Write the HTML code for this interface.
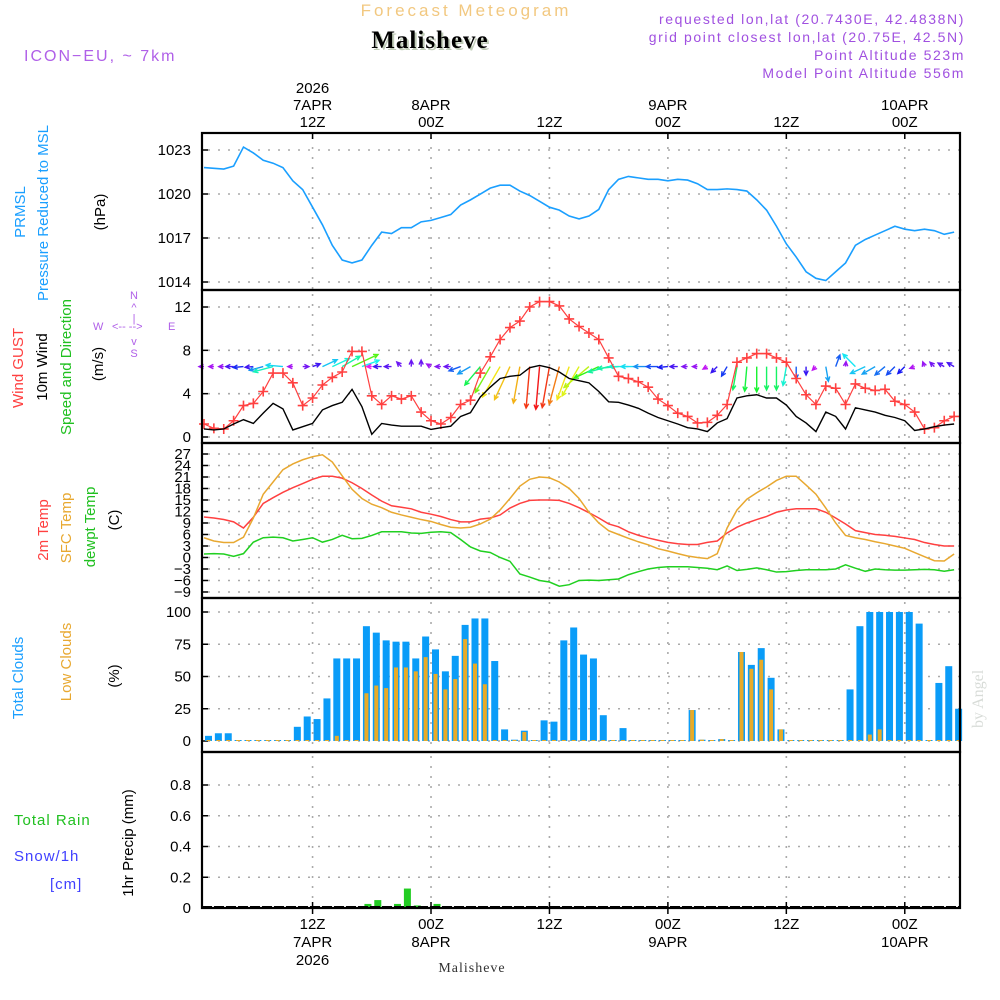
<!DOCTYPE html>
<html><head><meta charset="utf-8"><title>Meteogram Malisheve</title>
<style>
html,body{margin:0;padding:0;background:#fff;}
svg{display:block;font-family:"Liberation Sans",sans-serif;}
</style></head>
<body>
<svg id="chart" width="1000" height="1000" viewBox="0 0 1000 1000" xmlns="http://www.w3.org/2000/svg">
<rect width="1000" height="1000" fill="#fff"/>
<text x="466" y="16" text-anchor="middle" font-size="17" letter-spacing="3" fill="#f2c880">Forecast Meteogram</text>
<text x="432" y="50" text-anchor="middle" font-family="Liberation Serif,serif" font-weight="bold" font-size="25" fill="#c0ccb8" letter-spacing="1">Malisheve</text>
<text x="430" y="48" text-anchor="middle" font-family="Liberation Serif,serif" font-weight="bold" font-size="25" fill="#000" letter-spacing="1">Malisheve</text>
<text x="24" y="61" font-size="16" letter-spacing="2" fill="#b060e8">ICON−EU,  ~  7km</text>
<g font-size="14" letter-spacing="1.6" fill="#a050e0" text-anchor="end">
<text x="965" y="24">requested lon,lat (20.7430E, 42.4838N)</text>
<text x="965" y="42">grid point closest lon,lat (20.75E, 42.5N)</text>
<text x="965" y="60">Point Altitude 523m</text>
<text x="965" y="78">Model Point Altitude 556m</text>
</g>
<g font-size="15">
<text transform="translate(25,212) rotate(-90)" text-anchor="middle" fill="#1a9fff">PRMSL</text>
<text transform="translate(48,213) rotate(-90)" text-anchor="middle" fill="#1a9fff">Pressure Reduced to MSL</text>
<text transform="translate(105,212) rotate(-90)" text-anchor="middle" fill="#000">(hPa)</text>
<text transform="translate(23,368) rotate(-90)" text-anchor="middle" fill="#ff4040">Wind GUST</text>
<text transform="translate(47,367) rotate(-90)" text-anchor="middle" fill="#000">10m Wind</text>
<text transform="translate(71,367) rotate(-90)" text-anchor="middle" fill="#20c020">Speed and Direction</text>
<text transform="translate(103,364) rotate(-90)" text-anchor="middle" fill="#000">(m/s)</text>
<text transform="translate(48,530) rotate(-90)" text-anchor="middle" fill="#ff4040">2m Temp</text>
<text transform="translate(71,528) rotate(-90)" text-anchor="middle" fill="#e8a830">SFC Temp</text>
<text transform="translate(95,527) rotate(-90)" text-anchor="middle" fill="#20c020">dewpt Temp</text>
<text transform="translate(119,520) rotate(-90)" text-anchor="middle" fill="#000">(C)</text>
<text transform="translate(23,678) rotate(-90)" text-anchor="middle" fill="#1a9fff">Total Clouds</text>
<text transform="translate(71,662) rotate(-90)" text-anchor="middle" fill="#e8a830">Low Clouds</text>
<text transform="translate(119,676) rotate(-90)" text-anchor="middle" fill="#000">(%)</text>
<text x="14" y="825" fill="#20c020" letter-spacing="1">Total  Rain</text>
<text x="14" y="861" fill="#4040ff" letter-spacing="1">Snow/1h</text>
<text x="50" y="889" fill="#4040ff" letter-spacing="1">[cm]</text>
<text transform="translate(133,843) rotate(-90)" text-anchor="middle" fill="#000">1hr Precip (mm)</text>
</g>
<g font-size="11" fill="#b060e8">
<text x="134" y="299" text-anchor="middle">N</text>
<text x="134" y="311" text-anchor="middle">^</text>
<text x="93" y="330">W</text>
<text x="112" y="330">&lt;-- --&gt;</text>
<text x="168" y="330">E</text>
<text x="134" y="322" text-anchor="middle">|</text>
<text x="134" y="345" text-anchor="middle">v</text>
<text x="134" y="357" text-anchor="middle">S</text>
</g>
<text transform="translate(983,728) rotate(-90)" font-family="Liberation Serif,serif" font-size="16" fill="#d8dcd8">by Angel</text>
<text x="472" y="972" text-anchor="middle" font-family="Liberation Serif,serif" font-size="14" fill="#333" letter-spacing="1">Malisheve</text>
<g id="plot"></g>
</svg>
<script>
const startHour = 1;
const pressure = [1021.8,1021.75,1021.7,1021.9,1023.2,1022.8,1022.3,1022.1,1021.8,1020.9,1020.3,1019.1,1017.9,1016.5,1015.5,1015.3,1015.5,1016.5,1017.4,1017.3,1017.7,1017.7,1018.1,1018.2,1018.4,1018.6,1019.25,1019.6,1020.0,1020.4,1020.6,1020.6,1020.2,1019.9,1019.5,1019.1,1018.9,1018.5,1018.3,1018.5,1018.95,1020.3,1021.0,1021.2,1021.1,1021.0,1021.0,1020.9,1021.0,1020.95,1020.7,1020.3,1020.3,1020.35,1020.3,1020.2,1019.6,1018.9,1017.8,1016.6,1015.7,1014.7,1014.25,1014.1,1014.7,1015.3,1016.5,1016.9,1017.2,1017.5,1017.8,1017.6,1017.5,1017.6,1017.5,1017.25,1017.4];
const windGust = [1.2,0.8,0.74,1.5,2.9,3.1,4.2,5.9,5.9,5.0,2.9,3.6,4.8,5.5,6.0,7.9,7.9,3.8,3.0,3.8,3.5,3.8,2.3,1.5,1.2,1.8,3.0,3.4,5.9,7.4,9.0,10.1,10.7,12.0,12.5,12.5,12.1,10.9,10.2,9.6,9.0,7.3,5.6,5.4,5.1,4.6,3.5,2.9,2.2,1.9,1.3,1.35,2.0,3.0,6.9,7.3,7.7,7.7,7.3,6.9,5.4,3.9,3.0,4.7,4.5,3.0,4.9,4.5,4.3,4.4,3.3,3.0,2.3,0.74,0.86,1.5,1.9];
const windSpeed = [0.74,0.65,0.74,1.2,1.6,1.25,2.2,3.1,2.6,0.65,0.95,1.25,2.5,2.9,3.2,4.4,2.8,0.25,1.25,1.1,1.0,1.0,1.0,0.7,0.86,1.0,1.9,2.25,3.7,4.6,5.4,5.6,5.7,6.4,6.6,6.4,6.0,5.4,5.2,5.0,4.2,3.25,3.2,2.95,2.65,2.2,1.8,1.5,1.2,0.86,0.74,0.5,1.3,1.7,3.6,3.8,3.9,3.6,3.6,2.95,1.9,1.3,0.5,2.3,1.9,0.74,2.7,2.5,2.3,2.0,1.8,1.5,0.6,0.74,0.95,1.1,1.2];
const windDir = [180,180,180,180,175,175,165,165,185,180,0,-20,-25,-25,-30,-25,-20,180,180,180,-135,-90,-90,-150,180,180,160,150,130,120,120,115,100,95,95,100,105,110,120,140,155,165,175,180,180,180,180,175,180,180,180,150,135,120,100,95,90,90,90,100,90,90,135,80,-70,-85,-135,155,150,140,135,135,160,-110,-135,-150,-150];
const temp2m = [10.55,10.3,9.9,9.3,7.7,10.5,14.1,15.6,17.0,18.2,19.3,20.4,21.2,21.2,20.7,19.5,18.0,16.3,14.7,13.5,13.1,12.7,11.8,11.3,10.7,9.9,9.3,9.3,10.0,10.3,11.1,12.9,14.1,14.9,15.0,15.0,14.9,14.1,13.0,11.7,10.3,8.75,8.0,6.7,5.8,5.1,4.5,3.95,3.6,3.4,3.4,3.95,4.3,6.4,7.9,9.0,9.9,10.7,11.8,12.4,12.7,12.7,12.7,11.8,10.3,8.75,7.0,6.5,6.0,5.8,5.5,5.1,4.7,3.9,3.4,3.0,3.0];
const tempSfc = [5.15,4.3,3.9,3.9,5.3,10.3,16.5,19.7,22.9,24.4,25.5,26.3,26.8,24.9,21.3,17.8,15.4,13.9,13.0,11.8,11.1,10.5,9.9,9.4,8.6,7.9,7.7,7.9,8.75,10.0,12.4,15.4,18.6,20.4,21.0,20.8,19.7,18.0,15.4,11.8,9.0,7.0,6.0,5.0,4.1,3.3,2.3,1.7,1.0,0.4,0.0,-0.3,1.0,7.7,12.4,15.2,16.9,18.4,20.1,21.2,21.2,18.9,16.5,12.9,9.0,5.75,5.15,4.7,4.1,3.6,3.0,2.4,1.3,0.2,-0.85,-0.9,0.9];
const dewpoint = [0.9,1.0,0.9,0.3,1.0,4.0,5.15,5.3,5.15,4.3,4.7,5.15,4.0,4.7,5.8,4.9,5.0,5.75,6.7,6.7,6.7,6.4,6.3,6.6,6.7,6.5,4.7,2.75,1.7,1.3,0.0,-1.0,-4.3,-5.1,-6.0,-6.4,-7.5,-7.1,-6.0,-5.9,-6.0,-5.8,-5.6,-4.5,-3.7,-3.0,-2.6,-2.4,-2.4,-2.4,-2.6,-2.8,-3.2,-2.2,-3.4,-3.1,-2.7,-3.2,-3.8,-3.7,-3.4,-3.2,-3.2,-3.2,-3.0,-1.9,-2.8,-3.6,-3.0,-3.2,-3.3,-3.3,-3.2,-3.1,-3.2,-3.6,-3.2];
const totalClouds = [4,6,6,0,0,0,0,0,0,11,19,17,33,64,64,64,89,84,78,77,77,64,81,71,54,66,90,95,95,62,9,1,8,0.3,16,15,78,88,67,64,20,0,10,0,0,0,0,0,0,24,1,0,1.5,0,69,59,72,49,9,0,0,0,0,0,0,40,89,100,100,100,100,100,91,0,45,58,25];
const lowClouds = [0,0,0,0,0,0,0,0,0,0,0,0,0,4,0,0,37,43,41,57,57,54,65,52,40,48,79,60,44,0,0,0,7,0,0,0,0,0,0,0,0,0,0,0,0,0,0,0,0,24,1,0,1.5,0,69,56,63,40,9,0,0,0,0,0,0,0,0,5,9,0,0,0,0,0,0,0,0];
const precip = [0,0,0,0,0,0,0,0,0,0,0,0,0,0,0,0,0.02,0.045,0,0.02,0.12,0.01,0,0.02,0,0,0,0,0,0,0,0,0,0,0,0,0,0,0,0,0,0,0,0,0,0,0,0,0,0,0,0,0,0,0,0,0,0,0,0,0,0,0,0,0,0,0,0,0,0,0,0,0,0,0,0,0];
const timeTicks = [12,24,36,48,60,72];
const topTickLabels = [["2026","7APR","12Z"],["8APR","00Z"],["12Z"],["9APR","00Z"],["12Z"],["10APR","00Z"]];
const bottomTickLabels = [["12Z","7APR","2026"],["00Z","8APR"],["12Z"],["00Z","9APR"],["12Z"],["00Z","10APR"]];
const pTicks = [1014,1017,1020,1023];
const wTicks = [0,4,8,12];
const tTicks = [27,24,21,18,15,12,9,6,3,0,-3,-6,-9];
const cTicks = [0,25,50,75,100];
const rTicks = [0,0.2,0.4,0.6,0.8];

const L=202,R=960;
function x(t){return 204+(t-1)*9.87;}
function py(v){return 150+(1023-v)*14.667;}
function wy(v){return 437-v*10.833;}
function ty(v){return 454+(27-v)*3.833;}
function cy(v){return 741-v*1.29;}
function ry(v){return 908-v*153.75;}
const panels=[[133,290],[290,443],[443,598],[598,752],[752,908]];

const NS='http://www.w3.org/2000/svg';
const plot=document.getElementById('plot');
function mk(tag,attrs,parent){const e=document.createElementNS(NS,tag);for(const k in attrs)e.setAttribute(k,attrs[k]);(parent||plot).appendChild(e);return e;}
function txt(s,attrs,parent){const e=mk('text',attrs,parent);e.textContent=s;return e;}

const grid=mk('g',{stroke:'#aaa','stroke-width':1.6,'stroke-dasharray':'2 8'});


function hgrid(arr,f){arr.forEach(v=>mk('line',{x1:L+6,x2:R,y1:f(v),y2:f(v)},grid));}
hgrid(pTicks,py);hgrid(wTicks,wy);hgrid(tTicks,ty);hgrid(cTicks,cy);hgrid(rTicks,ry);
panels.forEach(p=>timeTicks.forEach(t=>mk('line',{x1:x(t),x2:x(t),y1:p[0]+4,y2:p[1]},grid)));

const yl=mk('g',{'font-size':15,fill:'#000','text-anchor':'end'});


function ylab(arr,f,fmt,fs){arr.forEach(v=>{txt(fmt(v),{x:191,y:f(v)+5,'font-size':fs||15},yl);mk('line',{x1:L,x2:L+6,y1:f(v),y2:f(v),stroke:'#000','stroke-width':1.5},yl);});}
ylab(pTicks,py,v=>String(v));ylab(wTicks,wy,v=>String(v));ylab(tTicks,ty,v=>v<0?'−'+(-v):String(v),15);
ylab(cTicks,cy,v=>String(v));ylab(rTicks,ry,v=>v===0?'0':v.toFixed(1));

const tl=mk('g',{'font-size':15,fill:'#000','text-anchor':'middle'});


timeTicks.forEach((t,i)=>{
  const top=topTickLabels[i];
  top.forEach((s,j)=>txt(s,{x:x(t),y:127-(top.length-1-j)*17},tl));
  bottomTickLabels[i].forEach((s,j)=>txt(s,{x:x(t),y:929+j*18},tl));
  mk('line',{x1:x(t),x2:x(t),y1:133,y2:139,stroke:'#000','stroke-width':1.5},tl);
  mk('line',{x1:x(t),x2:x(t),y1:902,y2:914,stroke:'#000','stroke-width':1.5},tl);
});

const pl=mk('polyline',{points:pressure.map((v,i)=>x(startHour+i)+','+py(v)).join(' '),fill:'none',stroke:'#1a9fff','stroke-width':1.6});



function spdColor(s){let h=310-47*s;if(h<0)h+=360;return 'hsl('+h+',90%,52%)';}
const arrows=mk('g',{'stroke-width':1.4,fill:'none'});


windDir.forEach((d,i)=>{
  const s=windSpeed[i],len=Math.max(5,s*6.5),a=d*Math.PI/180;
  const x0=x(startHour+i),y0=wy(6.5),x1=x0+len*Math.cos(a),y1=y0+len*Math.sin(a);
  const c=spdColor(s),h=5;
  const a1=a+Math.PI-0.45,a2=a+Math.PI+0.45;
  const p=mk('path',{d:`M${x0},${y0}L${x1},${y1}M${x1+h*Math.cos(a1)},${y1+h*Math.sin(a1)}L${x1},${y1}L${x1+h*Math.cos(a2)},${y1+h*Math.sin(a2)}`,stroke:c},arrows);
  
  
});

const gl=mk('polyline',{points:windGust.map((v,i)=>x(startHour+i)+','+wy(v)).join(' '),fill:'none',stroke:'#ff4040','stroke-width':1.2});


const gm=mk('g',{stroke:'#ff4040','stroke-width':1.6});


windGust.forEach((v,i)=>{const cx=x(startHour+i),cyy=wy(v);mk('path',{d:`M${cx-5},${cyy}H${cx+5}M${cx},${cyy-5}V${cyy+5}`},gm);});
const wl=mk('polyline',{points:windSpeed.map((v,i)=>x(startHour+i)+','+wy(v)).join(' '),fill:'none',stroke:'#000','stroke-width':1.4});



[[temp2m,'#ff4040','temp-2m-line'],[tempSfc,'#e8a830','temp-sfc-line'],[dewpoint,'#20d020','dewpoint-line']].forEach(([arr,c,n])=>{
  const l=mk('polyline',{points:arr.map((v,i)=>x(startHour+i)+','+ty(v)).join(' '),fill:'none',stroke:c,'stroke-width':1.5});
  
  
});

const cg=mk('g',{});


totalClouds.forEach((v,i)=>{
  const cx=x(startHour+i)+4.5;
  const b=mk('rect',{x:cx-3.5,y:Math.min(cy(v),740),width:7,height:Math.max(741-cy(v),1),fill:'#0a9cf8'},cg);
  
  
  const lv=lowClouds[i];
  const lb=mk('rect',{x:cx-2,y:Math.min(cy(lv),740),width:4,height:Math.max(741-cy(lv),1),fill:'#e8ab28'},cg);
  
  
});

const rg=mk('g',{});


precip.forEach((v,i)=>{if(v<=0)return;const cx=x(startHour+i)+6;
  const b=mk('rect',{x:cx-3.5,y:ry(v)-1,width:7,height:908-ry(v)+1,fill:'#22cc22'},rg);
  
  });
mk('line',{x1:L,x2:R,y1:907,y2:907,stroke:'#000','stroke-width':2,'stroke-dasharray':'10 2'});

const fr=mk('g',{fill:'none',stroke:'#000','stroke-width':2.2});


panels.forEach(p=>mk('rect',{x:L,y:p[0],width:R-L,height:p[1]-p[0]},fr));
</script>
</body></html>
